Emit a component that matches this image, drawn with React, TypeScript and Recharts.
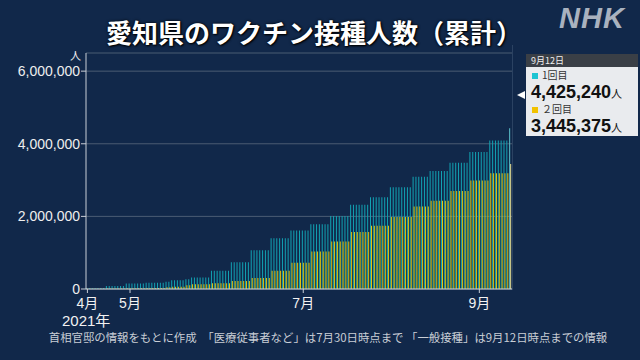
import { BarChart, Bar, XAxis, YAxis, CartesianGrid, Cell } from "recharts";

// weekly cumulative figures (each value holds until the next start date)
const stepStarts = [
  "4/16", "4/23", "4/30", "5/7", "5/14", "5/16", "5/21", "5/23", "5/30", "6/6",
  "6/13", "6/20", "6/27", "7/4", "7/11", "7/18", "7/25", "8/1", "8/9", "8/15",
  "8/22", "8/29", "9/5", "9/12",
];
const firstDose = [
  30000, 80000, 150000, 170000, 200000, 240000, 270000, 320000, 500000, 740000,
  1070000, 1400000, 1610000, 1780000, 2010000, 2320000, 2530000, 2800000, 3090000, 3250000,
  3480000, 3770000, 4090000, 4425240,
];
const secondDose = [
  10000, 15000, 20000, 30000, 50000, 60000, 100000, 130000, 160000, 220000,
  300000, 500000, 720000, 1030000, 1310000, 1570000, 1740000, 1980000, 2270000, 2430000,
  2700000, 2990000, 3190000, 3445375,
];

const monthTicks = ["4/16", "5/1", "7/1", "9/1"];
const monthLabels = ["4月", "5月", "7月", "9月"];
const yTicks = [0, 2000000, 4000000, 6000000];

const TEAL = "#12a3b3";
const YELLOW = "#e3c40c";
const BG = "#11284a";
const JP = '"Noto Sans CJK JP", sans-serif';
const NUM = '"Liberation Sans", "Noto Sans CJK JP", sans-serif';

function buildRows() {
  const rows: { date: string; first: number; second: number }[] = [];
  let step = 0;
  const d = new Date(2021, 3, 16);
  const end = new Date(2021, 8, 12);
  while (d <= end) {
    const label = `${d.getMonth() + 1}/${d.getDate()}`;
    if (step + 1 < stepStarts.length && stepStarts[step + 1] === label) step++;
    rows.push({ date: label, first: firstDose[step], second: secondDose[step] });
    d.setDate(d.getDate() + 1);
  }
  return rows;
}

const rows = buildRows();
const lastIdx = rows.length - 1;

export default function App() {
  return (
    <div
      style={{
        position: "fixed",
        left: 0,
        top: 0,
        width: 640,
        height: 360,
        background: BG,
        overflow: "hidden",
        fontFamily: JP,
      }}
    >
      {/* title */}
      <div
        style={{
          position: "absolute",
          left: 0,
          width: 628,
          top: 14,
          textAlign: "center",
          color: "#ffffff",
          fontSize: 26,
          fontWeight: 700,
          lineHeight: "36px",
          textShadow: "0 0 3px #000, 1px 1px 2px #000",
        }}
      >
        愛知県のワクチン接種人数（累計）
      </div>
      <div
        style={{
          position: "absolute",
          left: 559,
          top: 2,
          color: "#a9b2bf",
          fontFamily: NUM,
          fontSize: 29,
          fontWeight: 700,
          fontStyle: "italic",
          letterSpacing: 1,
        }}
      >
        NHK
      </div>

      <BarChart
        width={640}
        height={360}
        data={rows}
        margin={{ top: 53, right: 128, bottom: 41, left: 0 }}
        barCategoryGap={0}
        barGap={0}
        style={{ position: "absolute", left: 0, top: 0 }}
      >
        <CartesianGrid vertical={false} stroke="#4b5c73" />
        <XAxis
          dataKey="date"
          ticks={monthTicks}
          interval={0}
          tickFormatter={(v) => monthLabels[monthTicks.indexOf(v)] ?? ""}
          stroke="#c9ced6"
          tickSize={4}
          tickMargin={5}
          height={30}
          tick={{ fill: "#f2f2f2", fontSize: 14, fontFamily: NUM }}
        />
        <YAxis
          domain={[0, 6500000]}
          ticks={yTicks}
          width={86}
          stroke="#c9ced6"
          tickSize={5}
          tickMargin={1}
          tickFormatter={(v) => Number(v).toLocaleString("en-US")}
          tick={{ fill: "#eeeeee", fontSize: 14, fontFamily: NUM }}
        />
        <Bar dataKey="first" fill={TEAL} isAnimationActive={false}>
          {rows.map((r, i) => (
            <Cell key={r.date} fill={i === lastIdx ? "#5cc2cc" : TEAL} />
          ))}
        </Bar>
        <Bar dataKey="second" fill={YELLOW} isAnimationActive={false}>
          {rows.map((r, i) => (
            <Cell key={r.date} fill={i === lastIdx ? "#e6dc90" : YELLOW} />
          ))}
        </Bar>
      </BarChart>

      {/* right border */}
      <div style={{ position: "absolute", left: 512, top: 45, width: 1, height: 245, background: "#2b4262" }} />

      {/* unit */}
      <div style={{ position: "absolute", left: 70, top: 48, color: "#eeeeee", fontSize: 11, lineHeight: "14px" }}>人</div>

      <div style={{ position: "absolute", left: 62, top: 312, color: "#f2f2f2", fontSize: 15, lineHeight: "18px", fontFamily: NUM }}>
        2021年
      </div>
      <div
        style={{
          position: "absolute",
          left: 0,
          width: 656,
          top: 329,
          textAlign: "center",
          color: "#c9ced6",
          fontSize: 11.4,
          whiteSpace: "nowrap",
        }}
      >
        首相官邸の情報をもとに作成　「医療従事者など」は7月30日時点まで 「一般接種」は9月12日時点までの情報
      </div>

      {/* value box */}
      <div
        style={{
          position: "absolute",
          left: 517,
          top: 91,
          width: 0,
          height: 0,
          borderTop: "4px solid transparent",
          borderBottom: "4px solid transparent",
          borderRight: "8px solid #ffffff",
        }}
      />
      <div
        style={{
          position: "absolute",
          left: 526,
          top: 54,
          width: 112,
          height: 82,
          background: "#e9ebee",
          color: "#111",
        }}
      >
        <div style={{ background: "#3a3f46", color: "#f0f0f0", fontSize: 9, height: 13, lineHeight: "13px", paddingLeft: 5 }}>
          9月12日
        </div>
        <div style={{ position: "absolute", left: 6, top: 14, fontSize: 10, lineHeight: "14px", height: 14, color: "#333" }}>
          <span style={{ display: "inline-block", width: 6, height: 6, background: "#1cc4d2", marginRight: 4 }} />
          1回目
        </div>
        <div style={{ position: "absolute", left: 5, top: 28, fontFamily: NUM, fontWeight: 700, fontSize: 18, lineHeight: "20px", whiteSpace: "nowrap" }}>
          4,425,240<span style={{ fontFamily: JP, fontSize: 11, fontWeight: 400 }}>人</span>
        </div>
        <div style={{ position: "absolute", left: 6, top: 48, fontSize: 10, lineHeight: "14px", height: 14, color: "#333" }}>
          <span style={{ display: "inline-block", width: 6, height: 6, background: "#f2c200", marginRight: 4 }} />
          ２回目
        </div>
        <div style={{ position: "absolute", left: 5, top: 62, fontFamily: NUM, fontWeight: 700, fontSize: 18, lineHeight: "20px", whiteSpace: "nowrap" }}>
          3,445,375<span style={{ fontFamily: JP, fontSize: 11, fontWeight: 400 }}>人</span>
        </div>
      </div>
    </div>
  );
}
